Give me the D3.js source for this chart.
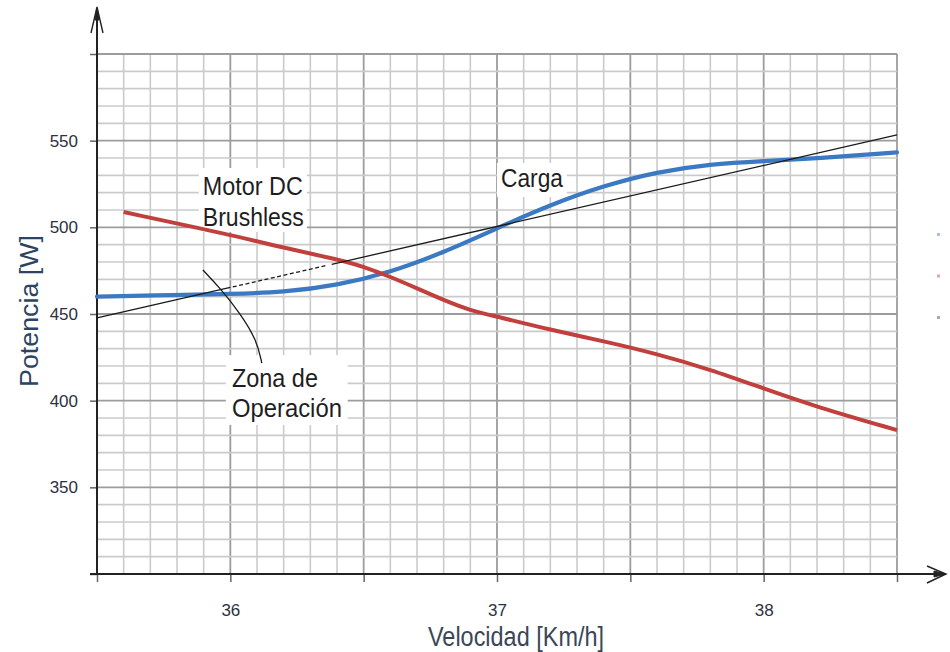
<!DOCTYPE html>
<html>
<head>
<meta charset="utf-8">
<script src="https://cdn.jsdelivr.net/npm/d3@7"></script>
<style>
  html, body { margin: 0; padding: 0; background: #ffffff; }
  svg { display: block; }
  text { font-family: "Liberation Sans", Arial, sans-serif; }
</style>
</head>
<body>
<script>
// ---------- Data ----------
const velocidadCarga = [35.5, 35.8, 36.0, 36.2, 36.4, 36.6, 36.8, 37.0, 37.2, 37.4, 37.6, 37.8, 38.0, 38.2, 38.5];
const potenciaCarga  = [460, 461, 461.5, 462.5, 466.5, 474, 485.5, 499.5, 513, 524, 532, 536.5, 538.3, 539.8, 543.2];

const velocidadMotor = [35.6, 36.0, 36.2, 36.4, 36.5, 36.6, 36.7, 36.8, 36.9, 37.0, 37.2, 37.4, 37.6, 37.8, 38.0, 38.2, 38.5];
const potenciaMotor  = [508.8, 495.7, 488.2, 481.6, 477.3, 471.5, 464.8, 458, 452, 448.5, 440.8, 434.4, 427, 418, 407, 396.3, 383];

const velocidadRecta = [35.5, 38.5];
const potenciaRecta  = [447.7, 553.3];
const tramoDiscontinuo = [36.0, 36.38];   // dashed stretch of the straight line

const anotacionX = [35.897, 35.961, 36.036, 36.099, 36.118];
const anotacionY = [475.4, 465, 450.6, 435, 421.7];

const xDominio = [35.5, 38.5];
const yDominio = [300, 600];
const xTickLabels = [36, 37, 38];
const yTickLabels = [350, 400, 450, 500, 550];

const seriesNames = ["Carga", "Motor DC Brushless", "Recta"];

// ---------- Setup ----------
const W = 950, H = 652;
const svg = d3.select("body").append("svg").attr("width", W).attr("height", H);

const x = d3.scaleLinear().domain(xDominio).range([97, 897]);
const y = d3.scaleLinear().domain(yDominio).range([574, 54]);

const isMajorX = d => Math.abs(d * 2 - Math.round(d * 2)) < 1e-6;
const isMajorY = d => Math.abs(d % 50) < 1e-6;

// ---------- Grid ----------
const grid = svg.append("g");
grid.selectAll("line.v").data(x.ticks(30)).join("line")
  .attr("class", "v")
  .attr("x1", d => x(d)).attr("x2", d => x(d))
  .attr("y1", y(yDominio[0])).attr("y2", y(yDominio[1]))
  .attr("stroke", d => isMajorX(d) ? "#9c9c9c" : "#cbcbcb")
  .attr("stroke-width", d => isMajorX(d) ? 1.8 : 1.6);

grid.selectAll("line.h").data(y.ticks(30).filter(d => d > yDominio[0])).join("line")
  .attr("class", "h")
  .attr("x1", x(xDominio[0])).attr("x2", x(xDominio[1]))
  .attr("y1", d => y(d)).attr("y2", d => y(d))
  .attr("stroke", d => isMajorY(d) ? "#9c9c9c" : "#cbcbcb")
  .attr("stroke-width", d => isMajorY(d) ? 1.8 : 1.6);

// ---------- White label boxes ----------
const boxes = [
  { x0: 35.882, x1: 36.287, y0: 534.2, y1: 497.3 },
  { x0: 37.0,   x1: 37.262, y0: 537.1, y1: 517.5 },
  { x0: 35.983, x1: 36.44,  y0: 426.3, y1: 386 }
];
svg.append("g").selectAll("rect").data(boxes).join("rect")
  .attr("x", d => x(d.x0)).attr("y", d => y(d.y0))
  .attr("width", d => x(d.x1) - x(d.x0)).attr("height", d => y(d.y1) - y(d.y0))
  .attr("fill", "#ffffff");

// ---------- Axes ----------
const xAxis = svg.append("g")
  .attr("transform", `translate(0,${y(yDominio[0])})`)
  .call(d3.axisBottom(x).tickValues(x.ticks(6))
    .tickFormat(d => xTickLabels.includes(d) ? d : "")
    .tickSize(8).tickPadding(22).tickSizeOuter(0));
xAxis.select(".domain").remove();
xAxis.selectAll(".tick line").attr("stroke", "#666").attr("stroke-width", 1.5);
xAxis.selectAll(".tick text").attr("fill", "#2e3040").attr("font-size", 17)
  .attr("font-family", '"Liberation Sans", Arial, sans-serif');

const yAxis = svg.append("g")
  .attr("transform", `translate(${x(xDominio[0])},0)`)
  .call(d3.axisLeft(y).tickValues(y.ticks(6))
    .tickFormat(d => yTickLabels.includes(d) ? d : "")
    .tickSize(7).tickPadding(12).tickSizeOuter(0));
yAxis.select(".domain").remove();
yAxis.selectAll(".tick line").attr("stroke", "#666").attr("stroke-width", 1.5);
yAxis.selectAll(".tick text").attr("fill", "#2e3040").attr("font-size", 17)
  .attr("font-family", '"Liberation Sans", Arial, sans-serif');

// axis lines with arrows
const ax = svg.append("g").attr("stroke", "#222").attr("fill", "none");
const x0p = x(xDominio[0]), y0p = y(yDominio[0]);
ax.append("line").attr("x1", x0p).attr("x2", x0p).attr("y1", y0p).attr("y2", 8).attr("stroke-width", 2);
ax.append("line").attr("x1", x0p - 7).attr("x2", 945).attr("y1", y0p).attr("y2", y0p).attr("stroke-width", 2);
ax.append("path").attr("d", `M${x0p - 6},33 L${x0p},7 L${x0p + 6},33`).attr("stroke-width", 1.4);
ax.append("path").attr("d", `M${x0p - 2},20 L${x0p},8 L${x0p + 2},20 Z`).attr("fill", "#222").attr("stroke-width", 1);
ax.append("path").attr("d", `M927,566 L946,${y0p} L927,583`).attr("stroke-width", 1.4);
ax.append("path").attr("d", `M934,${y0p - 3} L946,${y0p} L934,${y0p + 3} Z`).attr("fill", "#222").attr("stroke-width", 1);

// ---------- Series ----------
const line = d3.line().x(d => x(d[0])).y(d => y(d[1])).curve(d3.curveBasis);

svg.append("path")
  .datum(velocidadCarga.map((v, i) => [v, potenciaCarga[i]]))
  .attr("d", line).attr("fill", "none")
  .attr("stroke", "#3b79c3").attr("stroke-width", 4.2).attr("stroke-linecap", "round");

svg.append("path")
  .datum(velocidadMotor.map((v, i) => [v, potenciaMotor[i]]))
  .attr("d", line).attr("fill", "none")
  .attr("stroke", "#c13f3d").attr("stroke-width", 4).attr("stroke-linecap", "butt");

const recta = svg.append("path")
  .datum(velocidadRecta.map((v, i) => [v, potenciaRecta[i]]))
  .attr("d", d3.line().x(d => x(d[0])).y(d => y(d[1])))
  .attr("fill", "none").attr("stroke", "#1a1a1a").attr("stroke-width", 1.3);
{
  const L = recta.node().getTotalLength();
  const span = x(velocidadRecta[1]) - x(velocidadRecta[0]);
  const a = (x(tramoDiscontinuo[0]) - x(velocidadRecta[0])) / span * L;
  const b = (x(tramoDiscontinuo[1]) - x(velocidadRecta[0])) / span * L;
  const dash = [a];
  let pos = a;
  while (pos + 2.5 + 4 < b) { dash.push(2.5, 4); pos += 6.5; }
  dash.push(b - pos, L);
  recta.attr("stroke-dasharray", dash.join(","));
}

// annotation pointer
svg.append("path")
  .datum(anotacionX.map((v, i) => [v, anotacionY[i]]))
  .attr("d", d3.line().x(d => x(d[0])).y(d => y(d[1])).curve(d3.curveBasis))
  .attr("fill", "none").attr("stroke", "#1a1a1a").attr("stroke-width", 1.3);

// ---------- Text ----------
const labels = [
  { t: "Motor DC",  vx: 35.897, vy: 518.7, w: 100, fs: 25 },
  { t: "Brushless", vx: 35.897, vy: 500.8, w: 101, fs: 25 },
  { t: "Carga",     vx: 37.015, vy: 523.3, w: 62,  fs: 25 },
  { t: "Zona de",   vx: 36.006, vy: 407.9, w: 86,  fs: 25 },
  { t: "Operación", vx: 36.006, vy: 390.6, w: 110, fs: 25 }
];
svg.append("g").selectAll("text").data(labels).join("text")
  .attr("x", d => x(d.vx)).attr("y", d => y(d.vy))
  .attr("font-size", d => d.fs).attr("fill", "#1e1e22")
  .attr("textLength", d => d.w).attr("lengthAdjust", "spacingAndGlyphs")
  .text(d => d.t);

svg.append("text")
  .attr("transform", "translate(38,311) rotate(-90)")
  .attr("text-anchor", "middle").attr("font-size", 26).attr("fill", "#2b4463")
  .attr("textLength", 152).attr("lengthAdjust", "spacingAndGlyphs")
  .text("Potencia [W]");

svg.append("text")
  .attr("x", 516).attr("y", 646)
  .attr("text-anchor", "middle").attr("font-size", 27).attr("fill", "#3b4656")
  .attr("textLength", 176).attr("lengthAdjust", "spacingAndGlyphs")
  .text("Velocidad [Km/h]");

// ---------- Legend remnants ----------
const legendColors = ["#a9c3e6", "#e8a3a3", "#a8a8a8"];
svg.append("g").selectAll("rect").data(seriesNames).join("rect")
  .attr("x", 937).attr("y", (d, i) => 233 + i * 41.5)
  .attr("width", 3).attr("height", 3)
  .attr("fill", (d, i) => legendColors[i]);
</script>
</body>
</html>
